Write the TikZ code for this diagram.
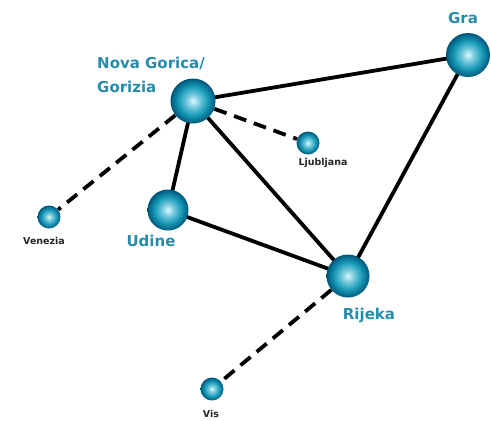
\documentclass[tikz,border=0pt]{standalone}
\usepackage{fontspec}
\setmainfont{DejaVu Sans}
\usetikzlibrary{backgrounds}
\definecolor{teallab}{RGB}{38,140,170}
\definecolor{balldark}{RGB}{0,95,130}
\definecolor{ballmid}{RGB}{25,155,185}
\definecolor{balllight}{RGB}{215,248,255}
\pgfdeclareradialshading{myball}{\pgfpoint{0bp}{0bp}}{%
  color(0bp)=(balllight); color(8bp)=(ballmid!55!balllight); color(16bp)=(ballmid); color(24bp)=(balldark); color(25bp)=(balldark!85!black); color(50bp)=(balldark!85!black)}
\tikzset{
  city/.style={circle, minimum size=#1, inner sep=0pt, shading=myball},
  road/.style={line width=3.8pt, black},
  ferry/.style={line width=3.8pt, black, dash pattern=on 13pt off 8pt},
  biglab/.style={text=teallab, font=\bfseries\fontsize{15}{24}\selectfont, align=left, inner sep=0pt},
  smalllab/.style={text=black!85, font=\bfseries\fontsize{9.5}{11}\selectfont, inner sep=0pt}
}
\begin{document}
\begin{tikzpicture}[x=1pt,y=-1pt]
\useasboundingbox (0,0) rectangle (491,421);
% balls
\node[city=45pt] (ng) at (193,101) {};
\node[city=44pt] (gr) at (468,55) {};
\node[city=23pt] (lj) at (308,143) {};
\node[city=23pt] (ve) at (49,217) {};
\node[city=41pt] (ud) at (168,210) {};
\node[city=43pt] (ri) at (348,276) {};
\node[city=23pt] (vi) at (212,389) {};
% edges
\begin{pgfonlayer}{background}
\draw[road] (ng.center) -- (gr.center);
\draw[road] (ng.center) -- (ud.center);
\draw[road] (ng.center) -- (ri.center);
\draw[road] (ud.center) -- (ri.center);
\draw[road] (gr.center) -- (ri.center);
\draw[ferry] (ng) -- (lj);
\draw[ferry] (ng) -- (ve);
\draw[ferry] (ri) -- (vi);
\end{pgfonlayer}
% labels
\node[biglab, anchor=north west] (lng) at (97,57) {Nova Gorica/\\Gorizia};
\node[biglab, anchor=center] (lgr) at (463,18) {Gra};
\node[biglab, anchor=center] (lud) at (151,241) {Udine};
\node[biglab, anchor=center] (lri) at (369,315) {Rijeka};
\node[smalllab] (llj) at (323,163) {Ljubljana};
\node[smalllab] (lve) at (44,241) {Venezia};
\node[smalllab] (lvi) at (211,414) {Vis};
\end{tikzpicture}
\end{document}
